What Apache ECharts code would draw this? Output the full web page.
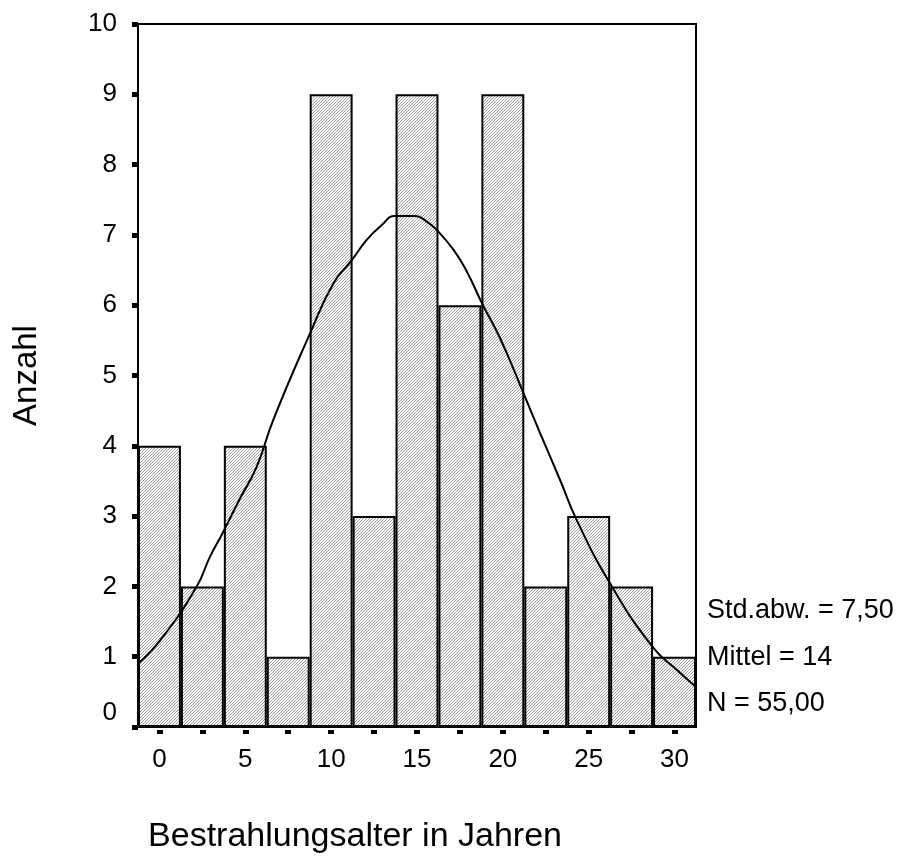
<!DOCTYPE html>
<html>
<head>
<meta charset="utf-8">
<script src="https://cdn.jsdelivr.net/npm/echarts/dist/echarts.min.js"></script>
<style>
	html, body { margin: 0; padding: 0; background: #fff; }
	#chart { width: 906px; height: 857px; }
</style>
</head>
<body>
<div id="chart"></div>
<script>
// Histogramm Bestrahlungsalter
var binCenters = ['0', '2,5', '5', '7,5', '10', '12,5', '15', '17,5', '20', '22,5', '25', '27,5', '30'];
var counts = [4, 2, 4, 1, 9, 3, 9, 6, 9, 2, 3, 2, 1];

// Normalverteilungskurve
var curveX = [-1.25, 0.13, 2.17, 2.94, 3.62, 4.69, 5.66, 6.63, 8.77, 10.13, 11.2, 12.07, 12.95, 13.72, 14.89, 15.57, 16.15, 17.12, 17.9, 18.78, 19.84, 21.2, 22.17, 23.34, 24.31, 26.25, 28.72, 30.14, 31.25];
var curveY = [0.90, 1.26, 2.00, 2.42, 2.73, 3.25, 3.70, 4.37, 5.60, 6.31, 6.64, 6.93, 7.14, 7.27, 7.27, 7.19, 7.07, 6.79, 6.48, 6.03, 5.53, 4.75, 4.18, 3.51, 2.94, 2.04, 1.14, 0.81, 0.57];

var statLines = ['Std.abw. = 7,50', 'Mittel = 14', 'N = 55,00'];

var font = '"Liberation Sans", Arial, sans-serif';

// Schraffur
var pat = document.createElement('canvas');
pat.width = 3;
pat.height = 3;
var ctx = pat.getContext('2d');
ctx.fillStyle = '#ffffff';
ctx.fillRect(0, 0, 3, 3);
ctx.fillStyle = '#9c9c9c';
for(var px = 0; px < 3; px++) {
	ctx.fillRect(px, 2 - px, 1, 1);
}

var curve = [];
for(var i = 0; i < curveX.length; i++) {
	curve.push([curveX[i], curveY[i]]);
}

var statGraphics = [];
var statY = [611, 658, 704];
for(var i = 0; i < statLines.length; i++) {
	statGraphics.push({
		type: 'text',
		x: 707,
		y: statY[i],
		style: {
			text: statLines[i],
			fontSize: 27,
			fontFamily: font,
			fill: '#000',
			textVerticalAlign: 'middle'
		}
	});
}
statGraphics.push({
	type: 'text',
	x: 355,
	y: 837,
	style: {
		text: 'Bestrahlungsalter in Jahren',
		fontSize: 34,
		fontFamily: font,
		fill: '#000',
		textAlign: 'center',
		textVerticalAlign: 'middle'
	}
});

var myChart = echarts.init(document.getElementById('chart'));
var option = {
	backgroundColor: '#fff',
	animation: false,
	grid: {
		left: 138,
		right: 210,
		top: 24,
		bottom: 130,
		outerBoundsMode: 'none',
		containLabel: false,
		show: true,
		borderColor: '#000',
		borderWidth: 2,
		backgroundColor: 'transparent'
	},
	xAxis: [{
		type: 'category',
		data: binCenters,
		position: 'bottom',
		axisLine: {
			lineStyle: { color: '#000', width: 2 }
		},
		axisTick: { show: false },
		axisLabel: {
			interval: 1,
			margin: 20,
			fontSize: 26,
			fontFamily: font,
			color: '#000'
		}
	}, {
		type: 'category',
		data: binCenters,
		position: 'bottom',
		offset: 3,
		axisLine: {
			show: true,
			lineStyle: { color: 'rgba(0,0,0,0)', width: 0 }
		},
		axisLabel: { show: false },
		axisTick: {
			show: true,
			alignWithLabel: true,
			interval: 0,
			length: 4,
			lineStyle: { color: '#000', width: 6 }
		}
	}, {
		type: 'value',
		min: -1.25,
		max: 31.25,
		show: false
	}],
	yAxis: {
		type: 'value',
		min: 0,
		max: 10,
		interval: 1,
		name: 'Anzahl',
		nameLocation: 'middle',
		nameGap: 95,
		nameTextStyle: {
			fontSize: 33,
			fontFamily: font,
			color: '#000'
		},
		axisLine: {
			show: true,
			onZero: false,
			lineStyle: { color: '#000', width: 2 }
		},
		axisTick: {
			show: true,
			length: 6,
			lineStyle: { color: '#000', width: 5 }
		},
		splitLine: { show: false },
		axisLabel: {
			margin: 21,
			fontSize: 26,
			fontFamily: font,
			color: '#000',
			formatter: function(v) {
				return v === 0 ? '{z|0}' : v;
			},
			rich: {
				z: {
					fontSize: 26,
					fontFamily: font,
					color: '#000',
					padding: [0, 0, 28, 0]
				}
			}
		}
	},
	series: [{
		type: 'bar',
		xAxisIndex: 0,
		data: counts,
		barCategoryGap: '0%',
		itemStyle: {
			color: { image: pat, repeat: 'repeat' },
			borderColor: '#000',
			borderWidth: 2
		}
	}, {
		type: 'line',
		xAxisIndex: 2,
		data: curve,
		smooth: 0.5,
		symbol: 'none',
		lineStyle: { color: '#000', width: 2 },
		z: 5
	}],
	graphic: statGraphics
};
myChart.setOption(option);

window.onresize = function() {
	myChart.resize();
}
</script>
</body>
</html>
